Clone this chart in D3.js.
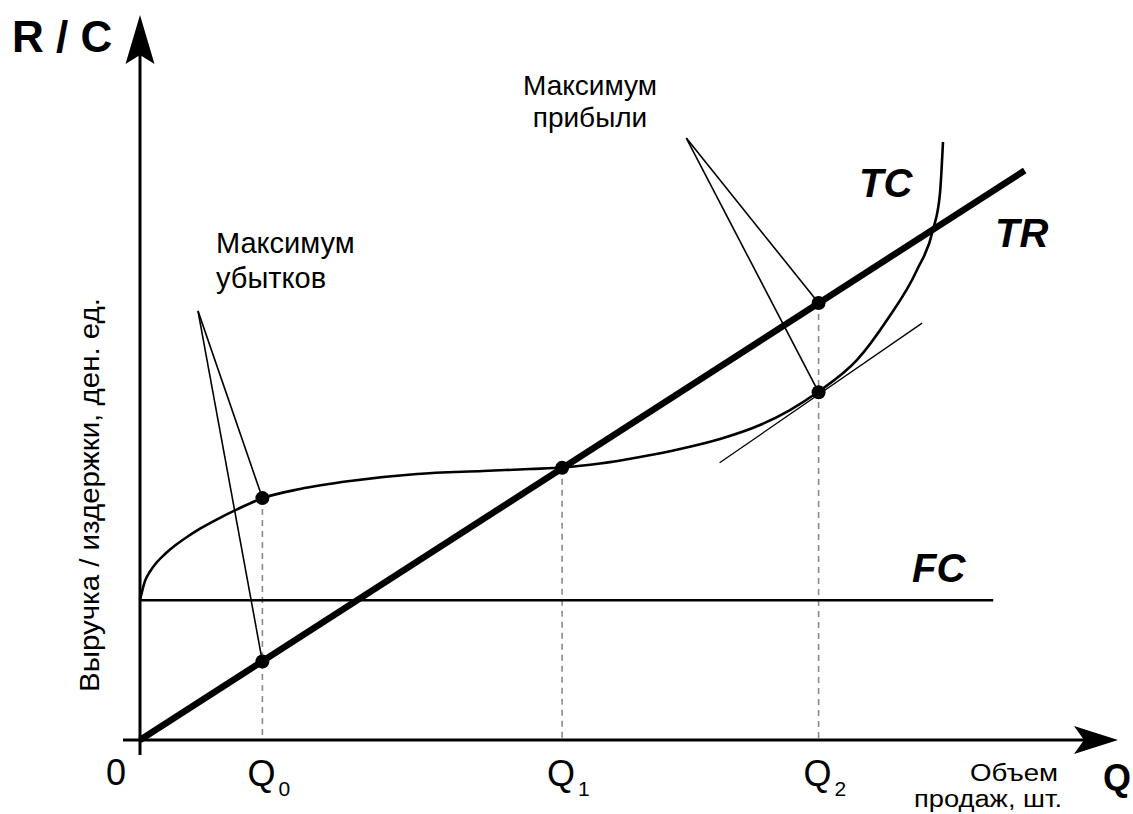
<!DOCTYPE html>
<html>
<head>
<meta charset="utf-8">
<script src="https://cdn.jsdelivr.net/npm/d3@7"></script>
<style>
  html, body { margin: 0; padding: 0; background: #fff; }
  svg { display: block; }
  text { font-family: "Liberation Sans", Arial, sans-serif; }
</style>
</head>
<body>
<svg id="chart" width="1133" height="814"></svg>
<script>
// ---------- data (chart units: x = quantity, y = money) ----------
const tcCurve = [
  [0, 19.44], [0.56, 22.1], [1.11, 23.4], [1.89, 24.72], [2.78, 25.83],
  [3.89, 27.0], [5.22, 28.19], [6.67, 29.35], [8.56, 30.65], [10.78, 32.03], [13.67, 33.61],
  [17.78, 34.86], [23.33, 35.97], [30.78, 36.94], [38.11, 37.36], [43.33, 37.64],
  [47.0, 37.85], [51.11, 38.4], [55.56, 39.31], [60.0, 40.42], [64.44, 41.81],
  [68.89, 43.75], [72.22, 45.83], [75.33, 48.33], [79.67, 52.78], [83.0, 58.33],
  [86.33, 65.28], [88.11, 70.83], [88.89, 75.97], [89.22, 83.06]
];
const trLine = [[0, 0], [98.3, 79.1]];
const fcLine = [[0, 19.4], [94.8, 19.4]];
const tangentLine = [[64.4, 38.5], [86.9, 57.9]];
const qLabels = ["Q", "Q", "Q"];
const qSubs = ["0", "1", "2"];
const qValues = [13.6, 46.9, 75.4];
const tcAtQ = [33.6, 37.8, 48.3];
const trAtQ = [10.9, 37.8, 60.7];
const lossApex = [6.44, 59.6];
const profitApex = [60.7, 83.6];
const lossText = ["Максимум", "убытков"];
const profitText = ["Максимум", "прибыли"];
const yAxisTitle = "R / C";
const xAxisTitle = "Q";
const originLabel = "0";
const yAxisLabel = "Выручка / издержки, ден. ед.";
const xAxisLabel = ["Объем", "продаж, шт."];
const curveNames = ["TC", "TR", "FC"];

// ---------- scales ----------
const svg = d3.select("#chart");
const x = d3.scaleLinear().domain([0, 100]).range([140, 1040]);
const y = d3.scaleLinear().domain([0, 100]).range([740, 20]);
const line = d3.line().x(d => x(d[0])).y(d => y(d[1]));

const x0 = x(0), y0 = y(0);

// ---------- dashed guides ----------
qValues.forEach((q, i) => {
  const top = Math.max(tcAtQ[i], trAtQ[i]);
  svg.append("line")
    .attr("x1", x(q)).attr("x2", x(q))
    .attr("y1", y(top)).attr("y2", y0)
    .attr("stroke", "#8a8a8a").attr("stroke-width", 1.6)
    .attr("stroke-dasharray", "6,5");
});

// ---------- axes ----------
const yTip = y.range()[1] - 5;
const xTip = 1118;
svg.append("line").attr("x1", x0).attr("x2", x0)
  .attr("y1", y0 + 15).attr("y2", yTip + 30)
  .attr("stroke", "#000").attr("stroke-width", 3);
svg.append("path")
  .attr("d", `M${x0},${yTip} L${x0 + 14.5},${yTip + 49} L${x0},${yTip + 40} L${x0 - 14.5},${yTip + 49} Z`)
  .attr("fill", "#000");
svg.append("line").attr("x1", x0 - 17).attr("x2", xTip - 30)
  .attr("y1", y0).attr("y2", y0)
  .attr("stroke", "#000").attr("stroke-width", 3);
svg.append("path")
  .attr("d", `M${xTip},${y0} L${xTip - 44},${y0 - 14} L${xTip - 34},${y0} L${xTip - 44},${y0 + 14} Z`)
  .attr("fill", "#000");

// ---------- curves ----------
svg.append("path").datum(fcLine).attr("d", line)
  .attr("fill", "none").attr("stroke", "#000").attr("stroke-width", 2.6);
svg.append("path").datum(tangentLine).attr("d", line)
  .attr("fill", "none").attr("stroke", "#000").attr("stroke-width", 1.3);
svg.append("path").datum(tcCurve)
  .attr("d", d3.line().x(d => x(d[0])).y(d => y(d[1])).curve(d3.curveMonotoneX))
  .attr("fill", "none").attr("stroke", "#000").attr("stroke-width", 2.6);
svg.append("path").datum(trLine).attr("d", line)
  .attr("fill", "none").attr("stroke", "#000").attr("stroke-width", 6.5);

// ---------- annotation pointer lines ----------
[[lossApex, [qValues[0], tcAtQ[0]]], [lossApex, [qValues[0], trAtQ[0]]],
 [profitApex, [qValues[2], trAtQ[2]]], [profitApex, [qValues[2], tcAtQ[2]]]]
  .forEach(([a, b]) => {
    svg.append("line")
      .attr("x1", x(a[0])).attr("y1", y(a[1]))
      .attr("x2", x(b[0])).attr("y2", y(b[1]))
      .attr("stroke", "#000").attr("stroke-width", 1.6);
  });

// ---------- dots ----------
const dots = [
  [qValues[0], tcAtQ[0]], [qValues[0], trAtQ[0]],
  [qValues[1], tcAtQ[1]],
  [qValues[2], tcAtQ[2]], [qValues[2], trAtQ[2]]
];
svg.selectAll("circle.dot").data(dots).enter().append("circle")
  .attr("class", "dot")
  .attr("cx", d => x(d[0])).attr("cy", d => y(d[1]))
  .attr("r", 7).attr("fill", "#000");

// ---------- texts ----------
svg.append("text").attr("x", 12).attr("y", 52)
  .attr("font-size", 44).attr("font-weight", "bold").text(yAxisTitle);
svg.append("text").attr("x", 1103).attr("y", 790)
  .attr("font-size", 36).attr("font-weight", "bold").text(xAxisTitle);

svg.append("text").attr("x", 116).attr("y", 785)
  .attr("text-anchor", "middle").attr("font-size", 36).text(originLabel);

qValues.forEach((q, i) => {
  const t = svg.append("text").attr("x", x(q) - 15).attr("y", 786).attr("font-size", 36);
  t.append("tspan").text(qLabels[i]);
  t.append("tspan").attr("font-size", 21).attr("dx", 3).attr("dy", 10).text(qSubs[i]);
});

svg.append("text").attr("text-anchor", "end").attr("font-size", 23)
  .attr("x", 1058).attr("y", 781).attr("textLength", 88).attr("lengthAdjust", "spacingAndGlyphs")
  .text(xAxisLabel[0]);
svg.append("text").attr("text-anchor", "end").attr("font-size", 23)
  .attr("x", 1062).attr("y", 807).attr("textLength", 148).attr("lengthAdjust", "spacingAndGlyphs")
  .text(xAxisLabel[1]);

svg.append("text")
  .attr("transform", "translate(99,495) rotate(-90)")
  .attr("text-anchor", "middle").attr("font-size", 27)
  .attr("textLength", 394).attr("lengthAdjust", "spacingAndGlyphs")
  .text(yAxisLabel);

const lt = svg.append("text").attr("font-size", 29);
lossText.forEach((s, i) => {
  lt.append("tspan").attr("x", 216).attr("y", 253 + i * 35).text(s);
});
const pt = svg.append("text").attr("font-size", 28).attr("text-anchor", "middle");
profitText.forEach((s, i) => {
  pt.append("tspan").attr("x", 590).attr("y", 95 + i * 32).text(s);
});

const nameStyle = t => t.attr("font-size", 40).attr("font-weight", "bold").attr("font-style", "italic");
nameStyle(svg.append("text").attr("x", 859).attr("y", 197)).text(curveNames[0]);
nameStyle(svg.append("text").attr("x", 995).attr("y", 247)).text(curveNames[1]);
nameStyle(svg.append("text").attr("x", 912).attr("y", 582)).text(curveNames[2]);
</script>
</body>
</html>
